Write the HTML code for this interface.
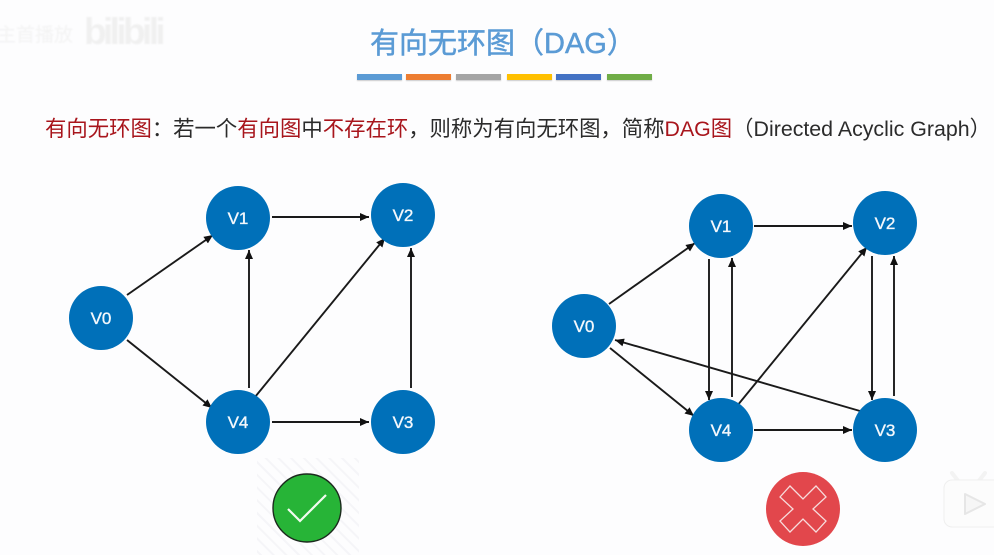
<!DOCTYPE html>
<html><head><meta charset="utf-8">
<style>
html,body{margin:0;padding:0;background:#fdfdfe;}
#p{position:relative;width:994px;height:555px;overflow:hidden;background:#fdfdfe;font-family:"Liberation Sans","Noto Sans CJK SC",sans-serif;}
.t{position:absolute;white-space:nowrap;}
.b{position:absolute;top:74px;height:6px;box-shadow:0 1px 1px rgba(0,0,0,.2);}
.l{top:115px;font-size:21.37px;line-height:28px;color:#2b2b2b;}
.r{color:#a8151c;}
svg{position:absolute;left:0;top:0;}
text{font-family:"Liberation Sans",sans-serif;}
</style></head><body><div id="p">
<div class="t" style="left:-3px;top:24px;font-size:19px;line-height:24px;color:#f3f3f3;filter:blur(.8px);">主首播放</div>
<div class="t" style="left:84px;top:13px;font-size:37px;line-height:38px;font-weight:bold;color:#f0f0f0;letter-spacing:-3.6px;filter:blur(.8px);">bilibili</div>
<div class="t" style="left:370px;top:24px;font-size:29px;line-height:40px;color:#5b9bd5;-webkit-text-stroke:.5px #5b9bd5;">有向无环图（DAG）</div>
<div class="b" style="left:357px;width:45px;background:#5b9bd5"></div>
<div class="b" style="left:406px;width:45px;background:#ed7d31"></div>
<div class="b" style="left:456px;width:45px;background:#a5a5a5"></div>
<div class="b" style="left:507px;width:45px;background:#ffc000"></div>
<div class="b" style="left:556px;width:45px;background:#4472c4"></div>
<div class="b" style="left:607px;width:45px;background:#70ad47"></div>
<div class="t l" style="left:45px;"><span class="r">有向无环图</span>：若一个<span class="r">有向图</span>中<span class="r">不存在环</span>，则称为有向无环图，简称<span class="r">DAG图</span>（Directed Acyclic Graph）</div>
<svg width="994" height="555" viewBox="0 0 994 555">
<defs>
<marker id="a" markerUnits="userSpaceOnUse" markerWidth="10" markerHeight="10" refX="9" refY="4.5" orient="auto"><path d="M0,0.5L9,4.5L0,8.5Z" fill="#111"/></marker>
<pattern id="h" width="9" height="9" patternUnits="userSpaceOnUse" patternTransform="rotate(45)"><rect width="9" height="2" fill="#f5f5f8"/></pattern>
</defs>
<g stroke="#1a1a1a" stroke-width="1.9" fill="none">
<line x1="127" y1="295" x2="213" y2="235" marker-end="url(#a)"/>
<line x1="127" y1="340" x2="212" y2="408" marker-end="url(#a)"/>
<line x1="272" y1="217" x2="369" y2="217" marker-end="url(#a)"/>
<line x1="249" y1="388" x2="249" y2="250" marker-end="url(#a)"/>
<line x1="255" y1="397" x2="385" y2="238" marker-end="url(#a)"/>
<line x1="272" y1="422" x2="369" y2="422" marker-end="url(#a)"/>
<line x1="411" y1="388" x2="411" y2="248" marker-end="url(#a)"/>
<line x1="609" y1="304" x2="695" y2="243" marker-end="url(#a)"/>
<line x1="610" y1="348" x2="694" y2="416" marker-end="url(#a)"/>
<line x1="709" y1="259" x2="709" y2="400" marker-end="url(#a)"/>
<line x1="732" y1="397" x2="732" y2="258" marker-end="url(#a)"/>
<line x1="754" y1="226" x2="852" y2="226" marker-end="url(#a)"/>
<line x1="754" y1="430" x2="852" y2="430" marker-end="url(#a)"/>
<line x1="737" y1="406" x2="867" y2="247" marker-end="url(#a)"/>
<line x1="872" y1="256" x2="872" y2="400" marker-end="url(#a)"/>
<line x1="894" y1="396" x2="894" y2="256" marker-end="url(#a)"/>
<line x1="860" y1="411" x2="615" y2="340" marker-end="url(#a)"/>
</g>
<g fill="#0070b9">
<circle cx="101" cy="318" r="32"/><circle cx="238" cy="218" r="32"/><circle cx="403" cy="215" r="32"/><circle cx="238" cy="422" r="32"/><circle cx="403" cy="422" r="32"/>
<circle cx="584" cy="326" r="32"/><circle cx="721" cy="226" r="32"/><circle cx="885" cy="223" r="32"/><circle cx="721" cy="430" r="32"/><circle cx="885" cy="430" r="32"/>
</g>
<g fill="#f4f8fc" stroke="#f4f8fc" stroke-width=".35" font-size="17" text-anchor="middle">
<text x="101" y="324">V0</text><text x="238" y="224">V1</text><text x="403" y="221">V2</text><text x="238" y="428">V4</text><text x="403" y="428">V3</text>
<text x="584" y="332">V0</text><text x="721" y="232">V1</text><text x="885" y="229">V2</text><text x="721" y="436">V4</text><text x="885" y="436">V3</text>
</g>
<rect x="257" y="458" width="102" height="97" fill="url(#h)"/>
<circle cx="307" cy="508" r="34" fill="#27b437" stroke="#1c2a1e" stroke-width="1.4"/>
<path d="M288,509L300,521L326,495" fill="none" stroke="#f2fbf0" stroke-width="2.2"/>
<circle cx="803" cy="509" r="37" fill="#e2474c"/>
<path d="M780,497L790,486L803,499L816,486L826,497L813,509L826,521L816,532L803,519L790,532L780,521L793,509Z" fill="none" stroke="#f7dcdc" stroke-width="1.3"/>
<path d="M959,482L952,473M978,482L985,473" stroke="#f3f3f3" stroke-width="4" stroke-linecap="round" fill="none"/>
<rect x="944" y="480" width="70" height="47" rx="8" fill="#fcfcfc" stroke="#efefef" stroke-width="1"/>
<path d="M965,494L985,504L965,514Z" fill="#f6f6f6" stroke="#e6e6e6" stroke-width="2" stroke-linejoin="round"/>
</svg>
</div></body></html>
